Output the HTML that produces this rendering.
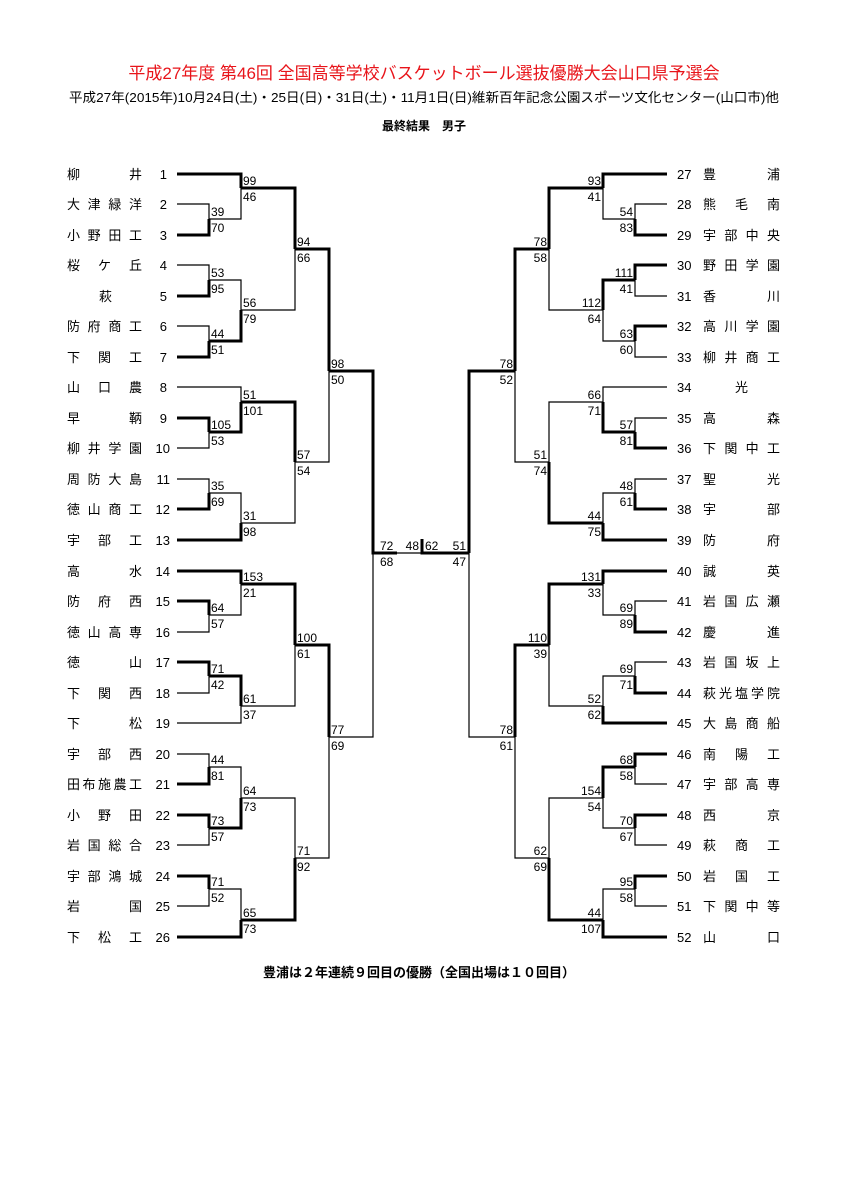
<!DOCTYPE html>
<html><head><meta charset="utf-8"><style>
body{margin:0;background:#fff;}
svg{display:block;}
text{font-family:"Liberation Sans","Noto Sans CJK JP",sans-serif;}
.n{font-size:13px;}
.s{font-size:12px;}
.t{fill:none;stroke:#000;stroke-width:1.2;}
.k{fill:none;stroke:#000;stroke-width:3;}
</style></head><body>
<svg width="848" height="1200" viewBox="0 0 848 1200" xmlns="http://www.w3.org/2000/svg">
<text x="424" y="79" text-anchor="middle" font-size="17" fill="#e8141a">平成27年度 第46回 全国高等学校バスケットボール選抜優勝大会山口県予選会</text>
<text x="424" y="102" text-anchor="middle" font-size="13" textLength="710" lengthAdjust="spacingAndGlyphs">平成27年(2015年)10月24日(土)・25日(日)・31日(土)・11月1日(日)維新百年記念公園スポーツ文化センター(山口市)他</text>
<text x="424" y="130" text-anchor="middle" font-size="12" font-weight="bold">最終結果　男子</text>
<text x="419" y="977" text-anchor="middle" font-size="13" font-weight="bold">豊浦は２年連続９回目の優勝（全国出場は１０回目）</text>

<g class="n">
<text x="67" y="179" textLength="75" lengthAdjust="spacing">柳井</text><text x="167" y="179" text-anchor="end">1</text>
<text x="67" y="209" textLength="75" lengthAdjust="spacing">大津緑洋</text><text x="167" y="209" text-anchor="end">2</text>
<text x="67" y="240" textLength="75" lengthAdjust="spacing">小野田工</text><text x="167" y="240" text-anchor="end">3</text>
<text x="67" y="270" textLength="75" lengthAdjust="spacing">桜ケ丘</text><text x="167" y="270" text-anchor="end">4</text>
<text x="99" y="301">萩</text><text x="167" y="301" text-anchor="end">5</text>
<text x="67" y="331" textLength="75" lengthAdjust="spacing">防府商工</text><text x="167" y="331" text-anchor="end">6</text>
<text x="67" y="362" textLength="75" lengthAdjust="spacing">下関工</text><text x="167" y="362" text-anchor="end">7</text>
<text x="67" y="392" textLength="75" lengthAdjust="spacing">山口農</text><text x="167" y="392" text-anchor="end">8</text>
<text x="67" y="423" textLength="75" lengthAdjust="spacing">早鞆</text><text x="167" y="423" text-anchor="end">9</text>
<text x="67" y="453" textLength="75" lengthAdjust="spacing">柳井学園</text><text x="170" y="453" text-anchor="end">10</text>
<text x="67" y="484" textLength="75" lengthAdjust="spacing">周防大島</text><text x="170" y="484" text-anchor="end">11</text>
<text x="67" y="514" textLength="75" lengthAdjust="spacing">徳山商工</text><text x="170" y="514" text-anchor="end">12</text>
<text x="67" y="545" textLength="75" lengthAdjust="spacing">宇部工</text><text x="170" y="545" text-anchor="end">13</text>
<text x="67" y="576" textLength="75" lengthAdjust="spacing">高水</text><text x="170" y="576" text-anchor="end">14</text>
<text x="67" y="606" textLength="75" lengthAdjust="spacing">防府西</text><text x="170" y="606" text-anchor="end">15</text>
<text x="67" y="637" textLength="75" lengthAdjust="spacing">徳山高専</text><text x="170" y="637" text-anchor="end">16</text>
<text x="67" y="667" textLength="75" lengthAdjust="spacing">徳山</text><text x="170" y="667" text-anchor="end">17</text>
<text x="67" y="698" textLength="75" lengthAdjust="spacing">下関西</text><text x="170" y="698" text-anchor="end">18</text>
<text x="67" y="728" textLength="75" lengthAdjust="spacing">下松</text><text x="170" y="728" text-anchor="end">19</text>
<text x="67" y="759" textLength="75" lengthAdjust="spacing">宇部西</text><text x="170" y="759" text-anchor="end">20</text>
<text x="67" y="789" textLength="75" lengthAdjust="spacing">田布施農工</text><text x="170" y="789" text-anchor="end">21</text>
<text x="67" y="820" textLength="75" lengthAdjust="spacing">小野田</text><text x="170" y="820" text-anchor="end">22</text>
<text x="67" y="850" textLength="75" lengthAdjust="spacing">岩国総合</text><text x="170" y="850" text-anchor="end">23</text>
<text x="67" y="881" textLength="75" lengthAdjust="spacing">宇部鴻城</text><text x="170" y="881" text-anchor="end">24</text>
<text x="67" y="911" textLength="75" lengthAdjust="spacing">岩国</text><text x="170" y="911" text-anchor="end">25</text>
<text x="67" y="942" textLength="75" lengthAdjust="spacing">下松工</text><text x="170" y="942" text-anchor="end">26</text>

<text x="677" y="179">27</text><text x="703" y="179" textLength="77" lengthAdjust="spacing">豊浦</text>
<text x="677" y="209">28</text><text x="703" y="209" textLength="77" lengthAdjust="spacing">熊毛南</text>
<text x="677" y="240">29</text><text x="703" y="240" textLength="77" lengthAdjust="spacing">宇部中央</text>
<text x="677" y="270">30</text><text x="703" y="270" textLength="77" lengthAdjust="spacing">野田学園</text>
<text x="677" y="301">31</text><text x="703" y="301" textLength="77" lengthAdjust="spacing">香川</text>
<text x="677" y="331">32</text><text x="703" y="331" textLength="77" lengthAdjust="spacing">高川学園</text>
<text x="677" y="362">33</text><text x="703" y="362" textLength="77" lengthAdjust="spacing">柳井商工</text>
<text x="677" y="392">34</text><text x="735" y="392">光</text>
<text x="677" y="423">35</text><text x="703" y="423" textLength="77" lengthAdjust="spacing">高森</text>
<text x="677" y="453">36</text><text x="703" y="453" textLength="77" lengthAdjust="spacing">下関中工</text>
<text x="677" y="484">37</text><text x="703" y="484" textLength="77" lengthAdjust="spacing">聖光</text>
<text x="677" y="514">38</text><text x="703" y="514" textLength="77" lengthAdjust="spacing">宇部</text>
<text x="677" y="545">39</text><text x="703" y="545" textLength="77" lengthAdjust="spacing">防府</text>
<text x="677" y="576">40</text><text x="703" y="576" textLength="77" lengthAdjust="spacing">誠英</text>
<text x="677" y="606">41</text><text x="703" y="606" textLength="77" lengthAdjust="spacing">岩国広瀬</text>
<text x="677" y="637">42</text><text x="703" y="637" textLength="77" lengthAdjust="spacing">慶進</text>
<text x="677" y="667">43</text><text x="703" y="667" textLength="77" lengthAdjust="spacing">岩国坂上</text>
<text x="677" y="698">44</text><text x="703" y="698" textLength="77" lengthAdjust="spacing">萩光塩学院</text>
<text x="677" y="728">45</text><text x="703" y="728" textLength="77" lengthAdjust="spacing">大島商船</text>
<text x="677" y="759">46</text><text x="703" y="759" textLength="77" lengthAdjust="spacing">南陽工</text>
<text x="677" y="789">47</text><text x="703" y="789" textLength="77" lengthAdjust="spacing">宇部高専</text>
<text x="677" y="820">48</text><text x="703" y="820" textLength="77" lengthAdjust="spacing">西京</text>
<text x="677" y="850">49</text><text x="703" y="850" textLength="77" lengthAdjust="spacing">萩商工</text>
<text x="677" y="881">50</text><text x="703" y="881" textLength="77" lengthAdjust="spacing">岩国工</text>
<text x="677" y="911">51</text><text x="703" y="911" textLength="77" lengthAdjust="spacing">下関中等</text>
<text x="677" y="942">52</text><text x="703" y="942" textLength="77" lengthAdjust="spacing">山口</text>
</g>

<!-- thin lines -->
<g class="t">
<path d="M177 204H209V219"/><path d="M209 219H241V188"/><path d="M177 265H209V280"/><path d="M177 326H209V341"/>
<path d="M209 280H241V310"/><path d="M241 310H295V249"/><path d="M177 448H209V432"/><path d="M177 387H241V402"/>
<path d="M177 479H209V493"/><path d="M209 493H241V523"/><path d="M241 523H295V462"/><path d="M295 462H329V371"/>
<path d="M177 632H209V615"/><path d="M209 615H241V584"/><path d="M177 693H209V676"/><path d="M177 723H241V706"/>
<path d="M241 706H295V645"/><path d="M177 754H209V767"/><path d="M177 845H209V828"/><path d="M209 767H241V798"/>
<path d="M177 906H209V889"/><path d="M209 889H241V920"/><path d="M241 798H295V858"/><path d="M295 858H329V737"/>
<path d="M329 737H373V553"/><path d="M397 553H422"/>
<path d="M635 219H603V188"/><path d="M667 204H635V219"/><path d="M667 296H635V280"/><path d="M667 357H635V341"/>
<path d="M635 341H603V310"/><path d="M603 310H549V249"/><path d="M667 418H635V432"/><path d="M667 387H603V402"/>
<path d="M667 479H635V493"/><path d="M635 493H603V523"/><path d="M603 402H549V462"/><path d="M549 462H515V371"/>
<path d="M667 601H635V615"/><path d="M635 615H603V584"/><path d="M667 662H635V676"/><path d="M635 676H603V706"/>
<path d="M603 706H549V645"/><path d="M667 784H635V767"/><path d="M667 845H635V828"/><path d="M635 828H603V798"/>
<path d="M667 906H635V889"/><path d="M635 889H603V920"/><path d="M603 798H549V858"/><path d="M549 858H515V737"/>
<path d="M515 737H469V553"/>
</g>
<!-- thick lines -->
<g class="k">
<path d="M177 235H209V219"/><path d="M177 174H241V188"/><path d="M177 296H209V280"/><path d="M177 357H209V341"/>
<path d="M209 341H241V310"/><path d="M241 188H295V249"/><path d="M177 418H209V432"/><path d="M209 432H241V402"/>
<path d="M177 509H209V493"/><path d="M177 540H241V523"/><path d="M241 402H295V462"/><path d="M295 249H329V371"/>
<path d="M177 601H209V615"/><path d="M177 571H241V584"/><path d="M177 662H209V676"/><path d="M209 676H241V706"/>
<path d="M241 584H295V645"/><path d="M177 784H209V767"/><path d="M177 815H209V828"/><path d="M209 828H241V798"/>
<path d="M177 876H209V889"/><path d="M177 937H241V920"/><path d="M241 920H295V858"/><path d="M295 645H329V737"/>
<path d="M329 371H373V553H397"/><path d="M422 539V553H469"/>
<path d="M667 174H603V188"/><path d="M667 235H635V219"/><path d="M667 265H635V280"/><path d="M667 326H635V341"/>
<path d="M635 280H603V310"/><path d="M603 188H549V249"/><path d="M667 448H635V432"/><path d="M635 432H603V402"/>
<path d="M667 509H635V493"/><path d="M667 540H603V523"/><path d="M603 523H549V462"/><path d="M549 249H515V371"/>
<path d="M667 632H635V615"/><path d="M667 571H603V584"/><path d="M667 693H635V676"/><path d="M667 723H603V706"/>
<path d="M603 584H549V645"/><path d="M667 754H635V767"/><path d="M667 815H635V828"/><path d="M635 767H603V798"/>
<path d="M667 876H635V889"/><path d="M667 937H603V920"/><path d="M603 920H549V858"/><path d="M549 645H515V737"/>
<path d="M515 371H469V553"/>
</g>

<!-- scores left -->
<g class="s">
<text x="243" y="185">99</text><text x="243" y="201">46</text>
<text x="211" y="216">39</text><text x="211" y="232">70</text>
<text x="211" y="277">53</text><text x="211" y="293">95</text>
<text x="211" y="338">44</text><text x="211" y="354">51</text>
<text x="243" y="307">56</text><text x="243" y="323">79</text>
<text x="297" y="246">94</text><text x="297" y="262">66</text>
<text x="211" y="429">105</text><text x="211" y="445">53</text>
<text x="243" y="399">51</text><text x="243" y="415">101</text>
<text x="211" y="490">35</text><text x="211" y="506">69</text>
<text x="243" y="520">31</text><text x="243" y="536">98</text>
<text x="297" y="459">57</text><text x="297" y="475">54</text>
<text x="331" y="368">98</text><text x="331" y="384">50</text>
<text x="211" y="612">64</text><text x="211" y="628">57</text>
<text x="243" y="581">153</text><text x="243" y="597">21</text>
<text x="211" y="673">71</text><text x="211" y="689">42</text>
<text x="243" y="703">61</text><text x="243" y="719">37</text>
<text x="297" y="642">100</text><text x="297" y="658">61</text>
<text x="211" y="764">44</text><text x="211" y="780">81</text>
<text x="211" y="825">73</text><text x="211" y="841">57</text>
<text x="243" y="795">64</text><text x="243" y="811">73</text>
<text x="211" y="886">71</text><text x="211" y="902">52</text>
<text x="243" y="917">65</text><text x="243" y="933">73</text>
<text x="297" y="855">71</text><text x="297" y="871">92</text>
<text x="331" y="734">77</text><text x="331" y="750">69</text>
<text x="380" y="550">72</text><text x="380" y="566">68</text>
<text x="419" y="550" text-anchor="end">48</text><text x="425" y="550">62</text>
</g>
<!-- scores right -->
<g class="s" text-anchor="end">
<text x="601" y="185">93</text><text x="601" y="201">41</text>
<text x="633" y="216">54</text><text x="633" y="232">83</text>
<text x="633" y="277">111</text><text x="633" y="293">41</text>
<text x="633" y="338">63</text><text x="633" y="354">60</text>
<text x="601" y="307">112</text><text x="601" y="323">64</text>
<text x="547" y="246">78</text><text x="547" y="262">58</text>
<text x="633" y="429">57</text><text x="633" y="445">81</text>
<text x="601" y="399">66</text><text x="601" y="415">71</text>
<text x="633" y="490">48</text><text x="633" y="506">61</text>
<text x="601" y="520">44</text><text x="601" y="536">75</text>
<text x="547" y="459">51</text><text x="547" y="475">74</text>
<text x="513" y="368">78</text><text x="513" y="384">52</text>
<text x="633" y="612">69</text><text x="633" y="628">89</text>
<text x="601" y="581">131</text><text x="601" y="597">33</text>
<text x="633" y="673">69</text><text x="633" y="689">71</text>
<text x="601" y="703">52</text><text x="601" y="719">62</text>
<text x="547" y="642">110</text><text x="547" y="658">39</text>
<text x="633" y="764">68</text><text x="633" y="780">58</text>
<text x="633" y="825">70</text><text x="633" y="841">67</text>
<text x="601" y="795">154</text><text x="601" y="811">54</text>
<text x="633" y="886">95</text><text x="633" y="902">58</text>
<text x="601" y="917">44</text><text x="601" y="933">107</text>
<text x="547" y="855">62</text><text x="547" y="871">69</text>
<text x="513" y="734">78</text><text x="513" y="750">61</text>
<text x="466" y="550">51</text><text x="466" y="566">47</text>
</g>
</svg>
</body></html>
